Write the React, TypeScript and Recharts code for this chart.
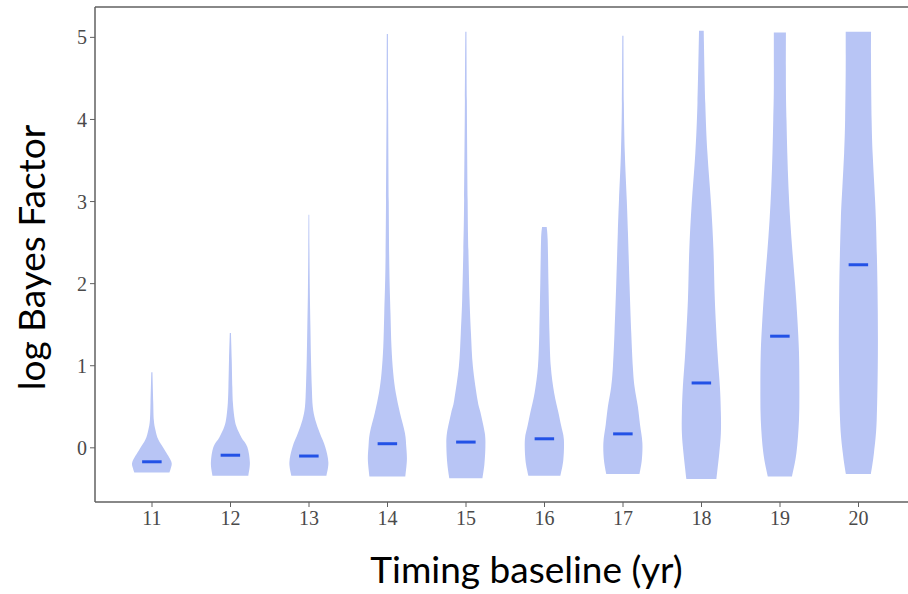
import { BarChart, Bar, XAxis, YAxis, ReferenceLine, Label } from 'recharts';

const years = ['11', '12', '13', '14', '15', '16', '17', '18', '19', '20'];
const mins = [-0.3, -0.34, -0.34, -0.35, -0.37, -0.34, -0.32, -0.38, -0.35, -0.32];
const maxs = [0.92, 1.4, 2.84, 5.04, 5.07, 2.69, 5.02, 5.08, 5.06, 5.07];
const medians = [-0.17, -0.09, -0.1, 0.05, 0.07, 0.11, 0.17, 0.79, 1.36, 2.23];

// density profile of each violin: sample values and relative width (1 = widest)
const profileLevels = [
  [-0.3, -0.25, -0.17, -0.02, 0.1, 0.22, 0.34, 0.55, 0.92],
  [-0.34, -0.18, 0.01, 0.13, 0.26, 0.38, 0.55, 0.74, 1.07, 1.4],
  [-0.34, -0.18, 0.01, 0.18, 0.34, 0.5, 0.74, 1.07, 1.47, 1.89, 2.41, 2.84],
  [-0.35, -0.15, 0.01, 0.18, 0.43, 0.67, 0.91, 1.23, 1.64, 2.2, 3.0, 4.2, 5.04],
  [-0.37, -0.2, 0.01, 0.18, 0.43, 0.58, 0.99, 1.4, 1.8, 2.41, 3.02, 4.23, 5.07],
  [-0.34, -0.15, 0.1, 0.28, 0.43, 0.67, 0.99, 1.4, 2.0, 2.53, 2.69],
  [-0.32, -0.15, 0.06, 0.28, 0.5, 0.74, 0.99, 1.4, 2.0, 2.62, 3.02, 3.59, 4.2, 5.02],
  [-0.38, -0.06, 0.18, 0.43, 0.74, 1.19, 1.8, 2.41, 2.96, 3.59, 4.2, 5.08],
  [-0.35, -0.06, 0.34, 0.74, 1.16, 1.56, 1.96, 2.37, 2.77, 3.18, 3.59, 3.99, 4.39, 5.06],
  [-0.32, -0.06, 0.34, 1.16, 1.96, 2.77, 3.18, 3.59, 3.99, 4.6, 5.07],
];
const profileWidths = [
  [0.9, 0.97, 1.0, 0.64, 0.33, 0.18, 0.1, 0.07, 0.03],
  [0.92, 1.0, 0.87, 0.56, 0.31, 0.2, 0.13, 0.1, 0.07, 0.03],
  [0.9, 1.0, 0.84, 0.56, 0.33, 0.2, 0.15, 0.11, 0.08, 0.05, 0.03, 0.02],
  [0.92, 1.0, 0.97, 0.9, 0.64, 0.43, 0.3, 0.21, 0.16, 0.1, 0.07, 0.04, 0.03],
  [0.85, 0.95, 1.0, 0.97, 0.75, 0.6, 0.36, 0.26, 0.19, 0.13, 0.09, 0.05, 0.03],
  [0.82, 0.97, 1.0, 0.85, 0.72, 0.5, 0.33, 0.26, 0.21, 0.17, 0.12],
  [0.85, 0.97, 1.0, 0.88, 0.77, 0.6, 0.51, 0.43, 0.34, 0.26, 0.2, 0.1, 0.05, 0.03],
  [0.77, 0.92, 1.0, 1.0, 0.95, 0.82, 0.69, 0.62, 0.5, 0.31, 0.2, 0.12],
  [0.62, 0.85, 0.98, 1.0, 0.98, 0.9, 0.79, 0.65, 0.53, 0.44, 0.38, 0.34, 0.31, 0.31],
  [0.64, 0.8, 0.94, 1.0, 0.98, 0.9, 0.82, 0.73, 0.68, 0.65, 0.65],
];

const yTicks = [0, 1, 2, 3, 4, 5];
const yMin = -0.66;
const yMax = 5.37;

const data = years.map((year, i) => ({
  year,
  range: [mins[i], maxs[i]],
  median: medians[i],
  levels: profileLevels[i],
  widths: profileWidths[i],
}));

const VIOLIN = '#b8c5f5';
const MEDIAN = '#2352e6';
const AXIS = '#606060';

// catmull-rom through points -> cubic bezier commands
const smooth = (pts: number[][]) => {
  let d = '';
  for (let i = 0; i < pts.length - 1; i++) {
    const p0 = pts[Math.max(i - 1, 0)];
    const p1 = pts[i];
    const p2 = pts[i + 1];
    const p3 = pts[Math.min(i + 2, pts.length - 1)];
    const c1x = p1[0] + (p2[0] - p0[0]) / 6;
    const c1y = p1[1] + (p2[1] - p0[1]) / 6;
    const c2x = p2[0] - (p3[0] - p1[0]) / 6;
    const c2y = p2[1] - (p3[1] - p1[1]) / 6;
    d += ` C${c1x},${c1y} ${c2x},${c2y} ${p2[0]},${p2[1]}`;
  }
  return d;
};

const Violin = (props: any) => {
  const { x, y, width, height, payload } = props;
  const top = Math.min(y, y + height);
  const bottom = Math.max(y, y + height);
  const [lo, hi] = payload.range;
  const toPx = (v: number) => bottom - ((v - lo) / (hi - lo)) * (bottom - top);
  const cx = x + width / 2;
  const half = width / 2;
  const right = payload.levels.map((v: number, i: number) => [cx + half * payload.widths[i], toPx(v)]);
  const left = right.map((p: number[]) => [2 * cx - p[0], p[1]]).reverse();
  const d =
    `M${right[0][0]},${right[0][1]}` +
    smooth(right) +
    ` L${left[0][0]},${left[0][1]}` +
    smooth(left) +
    ' Z';
  const my = toPx(payload.median);
  return (
    <g>
      <path d={d} fill={VIOLIN} stroke="none" />
      <line x1={cx - width / 4} x2={cx + width / 4} y1={my} y2={my} stroke={MEDIAN} strokeWidth={3} />
    </g>
  );
};

const tickStyle = { fontFamily: '"Liberation Serif", serif', fontSize: 20, fill: '#4a4a4a' };

const App = () => {
  return (
    <div style={{ position: 'absolute', left: 0, top: 0, background: '#fff' }}>
      <BarChart
        width={908}
        height={594}
        data={data}
        margin={{ top: 7, right: 0, bottom: 0, left: 0 }}
        barCategoryGap="25%"
      >
        <XAxis
          dataKey="year"
          padding={{ left: 17.75, right: 10.25 }}
          height={92}
          tickSize={5}
          tickMargin={4}
          tick={tickStyle}
          tickLine={{ stroke: AXIS }}
          axisLine={{ stroke: AXIS, strokeWidth: 1.5 }}
        >
          <Label
            content={({ viewBox }: any) => (
              <text
                x={viewBox.x + viewBox.width / 2 + 25}
                y={583}
                textAnchor="middle"
                fontFamily="Lato"
                fontSize={37}
                fill="#000"
              >
                Timing baseline (yr)
              </text>
            )}
          />
        </XAxis>
        <YAxis
          type="number"
          domain={[yMin, yMax]}
          ticks={yTicks}
          allowDataOverflow
          width={95}
          tickSize={5}
          tickMargin={3}
          tick={tickStyle}
          tickLine={{ stroke: AXIS }}
          axisLine={{ stroke: AXIS, strokeWidth: 1.5 }}
        >
          <Label
            content={({ viewBox }: any) => {
              const cy = viewBox.y + viewBox.height / 2 + 3;
              return (
                <text
                  x={45}
                  y={cy}
                  transform={`rotate(-90, 45, ${cy})`}
                  textAnchor="middle"
                  fontFamily="Lato"
                  fontSize={37}
                  fill="#000"
                >
                  log Bayes Factor
                </text>
              );
            }}
          />
        </YAxis>
        <ReferenceLine y={yMax} stroke={AXIS} strokeWidth={1.5} />
        <Bar dataKey="range" shape={Violin} isAnimationActive={false} />
      </BarChart>
    </div>
  );
};

export default App;
